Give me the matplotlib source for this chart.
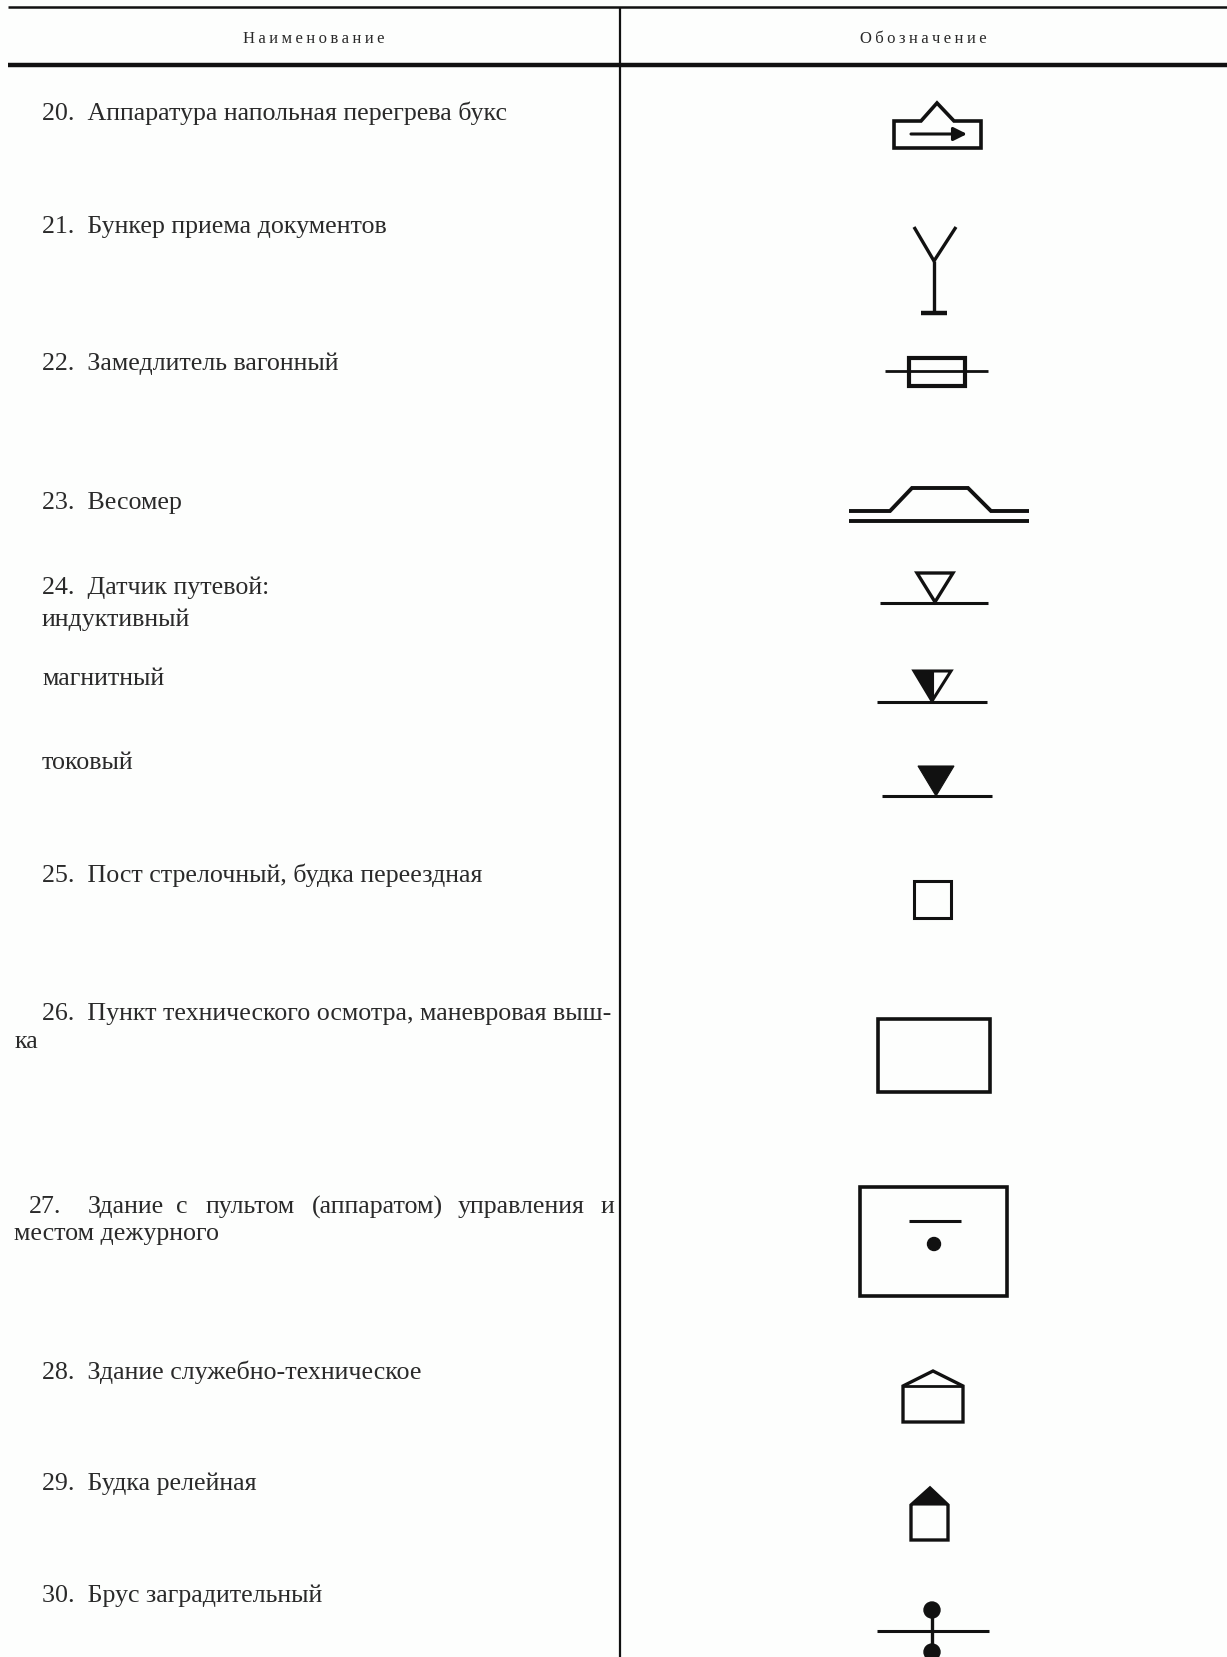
import matplotlib
matplotlib.use("Agg")
import matplotlib.pyplot as plt
from matplotlib.patches import Polygon, Rectangle, Circle

W, H = 1227, 1658

headers = ["Н\u2009а\u2009и\u2009м\u2009е\u2009н\u2009о\u2009в\u2009а\u2009н\u2009и\u2009е",
           "О\u2009б\u2009о\u2009з\u2009н\u2009а\u2009ч\u2009е\u2009н\u2009и\u2009е"]
header_x = [314, 923]

# text, x of the left edge, y of the line centre (pixels of the reference)
rows = [
    ("20.  Аппаратура напольная перегрева букс", 42, 113),
    ("21.  Бункер приема документов", 42, 227),
    ("22.  Замедлитель вагонный", 42, 364),
    ("23.  Весомер", 42, 503),
    ("24.  Датчик путевой:", 42, 588),
    ("индуктивный", 42, 620),
    ("магнитный", 42, 679),
    ("токовый", 42, 763),
    ("25.  Пост стрелочный, будка переездная", 42, 875),
    ("26.  Пункт технического осмотра, маневровая выш-", 42, 1014),
    ("ка", 15, 1042),
    ("местом дежурного", 14, 1234),
    ("28.  Здание служебно-техническое", 42, 1372),
    ("29.  Будка релейная", 42, 1484),
    ("30.  Брус заградительный", 42, 1596),
]
justified_words = ["27.", "Здание", "с", "пультом", "(аппаратом)", "управления", "и"]
justified_x = [29, 88, 176, 206, 312, 458, 601]
justified_y = 1207

# symbol outlines, reference pixels
sym20 = [(894, 122), (921, 122), (937, 104), (954, 122), (981, 122), (981, 149), (894, 149)]
sym21_y = [(914, 228), (934, 262), (956, 228)]
sym21_stem = [(934, 262), (934, 313)]
sym21_foot = [(921, 314), (947, 314)]
sym22_line = [(885, 372), (988, 372)]
sym22_box = (909, 359, 56, 28)
sym23_top = [(849, 512), (890, 512), (912, 489), (968, 489), (991, 512), (1029, 512)]
sym23_bot = [(849, 522), (1029, 522)]
sensor_lines = [[(880, 604), (988, 604)], [(877, 703), (987, 703)], [(882, 797), (992, 797)]]
tri_open = [(917, 574), (953, 574), (935, 603)]
tri_half = [(914, 672), (951, 672), (932, 702)]
tri_half_fill = [(914, 672), (933, 672), (933, 702)]
tri_full = [(918, 767), (954, 767), (936, 797)]
sym25 = (914, 882, 37, 37)
sym26 = (878, 1020, 112, 73)
sym27 = (860, 1188, 147, 109)
sym27_bar = [(909, 1222), (961, 1222)]
sym27_dot = (934, 1245, 6.5)
sym28 = [(903, 1387), (933, 1372), (963, 1387), (963, 1423), (903, 1423)]
sym28_bar = [(903, 1387), (963, 1387)]
sym29 = [(911, 1506), (930, 1489), (948, 1506), (948, 1541), (911, 1541)]
sym29_roof = [(911, 1506), (930, 1489), (948, 1506)]
sym30_line = [(877, 1632), (989, 1632)]
sym30_stem = [(932, 1611), (932, 1653)]
sym30_dots = [(932, 1611, 8), (932, 1653, 8)]

plt.rcParams["font.family"] = ["Liberation Serif", "DejaVu Serif"]

fig = plt.figure(figsize=(W / 100, H / 100), dpi=100, facecolor="#fdfefd")
ax = fig.add_axes([0, 0, 1, 1])
ax.set_xlim(0, W)
ax.set_ylim(H, 0)
ax.axis("off")

INK = "#111111"
TXT = "#2a2a2a"
FS = 18.7


def line(pts, lw=2.0):
    ax.plot([p[0] for p in pts], [p[1] for p in pts], color=INK, lw=lw, solid_capstyle="butt",
            solid_joinstyle="miter")


def outline(pts, lw=2.2):
    ax.add_patch(Polygon(pts, closed=True, fill=False, edgecolor=INK, lw=lw))


def solid(pts):
    ax.add_patch(Polygon(pts, closed=True, facecolor=INK, edgecolor=INK, lw=0.8))


def box(spec, lw=2.2):
    x, y, w, h = spec
    ax.add_patch(Rectangle((x, y), w, h, fill=False, edgecolor=INK, lw=lw))


# table rules
line([(8, 8), (W, 8)], 1.8)
line([(8, 66), (W, 66)], 3.2)
line([(620, 8), (620, H)], 1.6)

for s, x in zip(headers, header_x):
    ax.text(x, 39, s, ha="center", va="center", fontsize=12, color=TXT)

for s, x, y in rows:
    ax.text(x, y, s, ha="left", va="center", fontsize=FS, color=TXT)
for s, x in zip(justified_words, justified_x):
    ax.text(x, justified_y, s, ha="left", va="center", fontsize=FS, color=TXT)

# 20
outline(sym20, 2.6)
ax.annotate("", xy=(967, 135), xytext=(911, 135),
            arrowprops=dict(arrowstyle="-|>", color=INK, lw=2.2, mutation_scale=20, shrinkA=0, shrinkB=0))
# 21
line(sym21_y, 2.4)
line(sym21_stem, 2.4)
line(sym21_foot, 3.2)
# 22
line(sym22_line, 2.0)
box(sym22_box, 3.0)
# 23
line(sym23_top, 2.8)
line(sym23_bot, 2.8)
# 24
for seg in sensor_lines:
    line(seg, 2.2)
outline(tri_open, 2.4)
outline(tri_half, 2.2)
solid(tri_half_fill)
solid(tri_full)
# 25-27
box(sym25, 2.2)
box(sym26, 2.6)
box(sym27, 2.6)
line(sym27_bar, 2.2)
ax.add_patch(Circle(sym27_dot[:2], sym27_dot[2], color=INK))
# 28
outline(sym28, 2.4)
line(sym28_bar, 2.0)
# 29
outline(sym29, 2.4)
solid(sym29_roof)
# 30
line(sym30_line, 2.2)
line(sym30_stem, 2.4)
for x, y, r in sym30_dots:
    ax.add_patch(Circle((x, y), r, color=INK))

fig.savefig("out.png", dpi=100, facecolor=fig.get_facecolor())
plt.close(fig)
